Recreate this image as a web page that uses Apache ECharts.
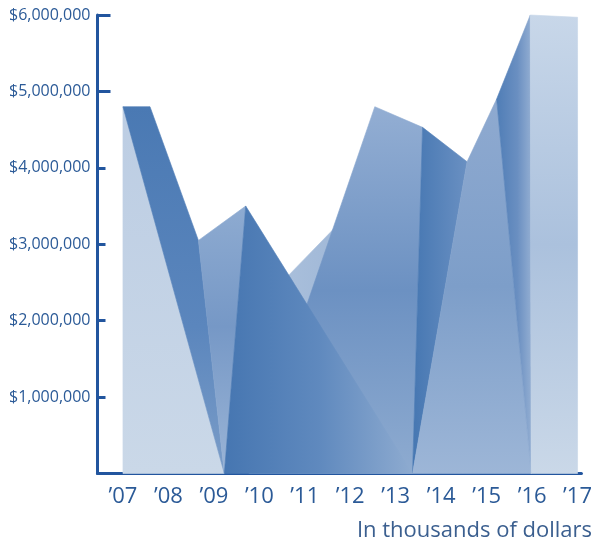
<!DOCTYPE html>
<html>
<head>
<meta charset="utf-8">
<style>
  html, body { margin: 0; padding: 0; background: #ffffff; }
  #chart { width: 595px; height: 546px; }
</style>
<script src="https://cdn.jsdelivr.net/npm/echarts@6/dist/echarts.min.js"></script>
</head>
<body>
<div id="chart"></div>
<script>
// Year labels along the bottom axis (index 0 = '07 ... 10 = '17)
const yearLabels = ['\u201907', '\u201908', '\u201909', '\u201910', '\u201911', '\u201912',
                    '\u201913', '\u201914', '\u201915', '\u201916', '\u201917'];

// Dollar scale ticks
const dollarTicks = [0, 1000000, 2000000, 3000000, 4000000, 5000000, 6000000];

// Folded ribbon facets: [year index, dollars] corners of each face
const facet07 = [[0, 4800000], [2.23, 0], [0, 0]];
const facet08 = [[0, 4800000], [0.595, 4800000], [1.66, 3050000], [2.23, 0]];
const facet09 = [[1.66, 3050000], [2.70, 3500000], [2.23, 0]];
const facet10 = [[2.70, 3500000], [6.37, 0], [2.23, 0]];
const facet11 = [[3.54, 2530000], [4.96, 3400000], [3.87, 0]];
const facet12 = [[5.54, 4800000], [6.59, 4530000], [6.37, 0], [2.77, 0]];
const facet13 = [[6.59, 4530000], [7.57, 4080000], [6.37, 0]];
const facet14 = [[7.57, 4080000], [8.22, 4900000], [8.98, 0], [6.37, 0]];
const facet15 = [[8.22, 4900000], [8.96, 6000000], [8.98, 0]];
const facet16 = [[8.96, 6000000], [10, 5970000], [10, 0], [8.98, 0]];

// Drawing order: back faces first
const facets = [facet11, facet12, facet07, facet08, facet09, facet10,
                facet13, facet14, facet15, facet16];

function lin(x0, y0, x1, y1, stops) {
  return new echarts.graphic.LinearGradient(x0, y0, x1, y1,
    stops.map(function (c, i) { return { offset: Array.isArray(c) ? c[0] : i / (stops.length - 1), color: Array.isArray(c) ? c[1] : c }; }));
}

// Face shading, same order as facets
const facetFills = [
  lin(0, 0, 1, 0, ['#a9bfdb', '#9fb7d7']),                                  // 11
  lin(0, 0, 0, 1, [[0, '#93aed3'], [0.5, '#6c91c2'], [1, '#8eabd0']]),      // 12
  lin(0, 0, 0, 1, ['#bccde3', '#cad8e8']),                                  // 07
  lin(0, 0, 0, 1, [[0, '#4a79b3'], [0.6, '#5b86bd'], [1, '#7b9dc8']]),      // 08
  lin(0, 0, 0, 1, [[0, '#8eabd1'], [0.45, '#7698c6'], [1, '#9ab4d6']]),     // 09
  lin(0, 0, 1, 0, [[0, '#4676b1'], [0.5, '#5f89be'], [1, '#8eabd0']]),      // 10
  lin(0, 0, 1, 0, ['#4677b2', '#6a90c2']),                                  // 13
  lin(0, 0, 0, 1, [[0, '#8faad0'], [0.5, '#7d9ec9'], [1, '#9db6d7']]),      // 14
  lin(0, 0, 1, 0, [[0, '#4f7db6'], [0.6, '#6a8fc1'], [1, '#93aed2']]),      // 15
  lin(0, 0, 0, 1, [[0, '#c8d7e9'], [0.5, '#abc1dd'], [1, '#cad8e8']])       // 16
];

const axisBlue = '#22559e';
const textBlue = '#2b5a97';

const chart = echarts.init(document.getElementById('chart'), null, { renderer: 'canvas' });

chart.setOption({
  animation: false,
  backgroundColor: '#ffffff',
  grid: { left: 97.5, right: 9.4, top: 15, bottom: 72.5, containLabel: false },
  xAxis: {
    type: 'value',
    min: -0.56,
    max: 10.085,
    axisLine: { show: true, onZero: false, lineStyle: { color: axisBlue, width: 3 } },
    axisTick: { show: false },
    splitLine: { show: false },
    axisLabel: {
      customValues: yearLabels.map(function (_, i) { return i; }),
      formatter: function (v) { return yearLabels[Math.round(v)]; },
      color: textBlue,
      fontFamily: 'Open Sans',
      fontSize: 22,
      margin: 12
    }
  },
  yAxis: [{
    type: 'value',
    position: 'left',
    min: 0,
    max: 6000000,
    interval: 1000000,
    axisLine: { show: true, onZero: false, lineStyle: { color: axisBlue, width: 3 } },
    axisTick: { show: true, inside: true, length: 8, lineStyle: { color: axisBlue, width: 3 },
                customValues: dollarTicks.slice(1, 5) },
    splitLine: { show: false },
    axisLabel: {
      customValues: dollarTicks.slice(1),
      formatter: function (v) { return '$' + v.toLocaleString('en-US'); },
      color: textBlue,
      fontFamily: 'Open Sans',
      fontSize: 16,
      margin: 7
    }
  }, {
    type: 'value',
    position: 'left',
    offset: 0,
    min: 0,
    max: 6000000,
    interval: 1000000,
    axisLine: { show: false, onZero: false },
    axisTick: { show: true, inside: true, length: 13, lineStyle: { color: axisBlue, width: 3 },
                customValues: dollarTicks.slice(5) },
    axisLabel: { show: false },
    splitLine: { show: false }
  }],
  graphic: [{
    type: 'text',
    right: 3,
    top: 520,
    style: {
      text: 'In thousands of dollars',
      fill: '#3b5f8f',
      font: '22px "Open Sans"'
    }
  }],
  series: [{
    type: 'custom',
    coordinateSystem: 'cartesian2d',
    clip: false,
    data: facets.map(function (f, i) { return [i]; }),
    renderItem: function (params, api) {
      const pts = facets[params.dataIndex].map(function (p) { return api.coord(p); });
      const fill = facetFills[params.dataIndex];
      return {
        type: 'polygon',
        shape: { points: pts },
        style: { fill: fill, stroke: fill, lineWidth: 0.6 }
      };
    }
  }]
});
</script>
</body>
</html>
